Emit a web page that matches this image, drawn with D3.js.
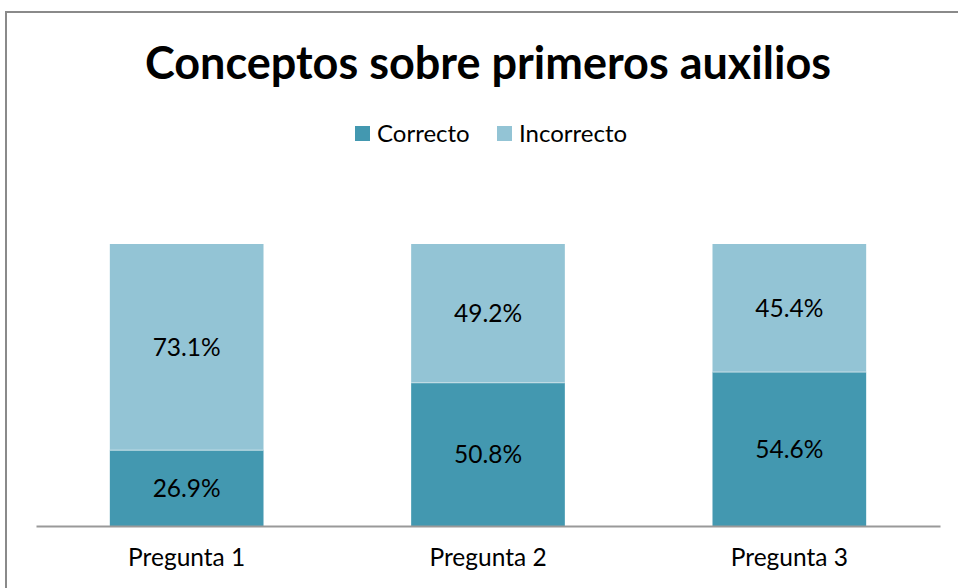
<!DOCTYPE html>
<meta charset="utf-8">
<head>
    <style>
        body {margin: 0; background: #fff;}
        text {font-family: Lato, "Open Sans", sans-serif; fill: #000;}
        .title {font-weight: bold; font-size: 45px;}
        .lbl {font-size: 24.5px;}
    </style>
    <script src="https://d3js.org/d3.v7.min.js"></script>
</head>
<body>
<script>
    // data
    var categories = ["Pregunta 1", "Pregunta 2", "Pregunta 3"];
    var series = ["Correcto", "Incorrecto"];
    var correcto = [26.9, 50.8, 54.6];
    var incorrecto = [73.1, 49.2, 45.4];
    var colors = ["#4398B0", "#93C4D5"];

    var width = 958, height = 588;

    var svg = d3.select("body").append("svg")
        .attr("width", width)
        .attr("height", height);

    // outer chart border
    svg.append("rect")
        .attr("x", 6).attr("y", 12)
        .attr("width", 960).attr("height", 600)
        .attr("fill", "none")
        .attr("stroke", "#8a8a8a")
        .attr("stroke-width", 2);

    svg.append("text")
        .attr("class", "title")
        .attr("x", 488).attr("y", 79)
        .attr("text-anchor", "middle")
        .text("Conceptos sobre primeros auxilios");

    var x = d3.scaleBand()
        .domain(categories)
        .range([36, 940])
        .paddingInner(0.49)
        .paddingOuter(0.245);

    var y = d3.scaleLinear()
        .domain([0, 100])
        .range([526, 244]);

    var rows = categories.map(function(c, i) {
        return {cat: c, Correcto: correcto[i], Incorrecto: incorrecto[i]};
    });
    var stacked = d3.stack().keys(series)(rows);

    var layers = svg.selectAll("g.layer")
        .data(stacked)
      .enter().append("g")
        .attr("class", "layer")
        .attr("fill", function(d, i) { return colors[i]; });

    layers.selectAll("rect")
        .data(function(d) { return d; })
      .enter().append("rect")
        .attr("x", function(d) { return x(d.data.cat); })
        .attr("width", x.bandwidth())
        .attr("y", function(d) { return y(d[1]); })
        .attr("height", function(d) { return y(d[0]) - y(d[1]); });

    // thin light seam between segments
    layers.filter(function(d, i) { return i == 1; }).selectAll("line")
        .data(function(d) { return d; })
      .enter().append("line")
        .attr("x1", function(d) { return x(d.data.cat); })
        .attr("x2", function(d) { return x(d.data.cat) + x.bandwidth(); })
        .attr("y1", function(d) { return y(d[0]); })
        .attr("y2", function(d) { return y(d[0]); })
        .attr("stroke", "#c9e0e8").attr("stroke-width", 1);

    layers.selectAll("text")
        .data(function(d) { return d; })
      .enter().append("text")
        .attr("class", "lbl")
        .attr("text-anchor", "middle")
        .attr("x", function(d) { return x(d.data.cat) + x.bandwidth() / 2; })
        .attr("y", function(d) { return (y(d[0]) + y(d[1])) / 2 + 9; })
        .text(function(d) { return (d[1] - d[0]).toFixed(1) + "%"; });

    // category axis
    var axis = svg.append("g")
        .attr("transform", "translate(0,526)")
        .call(d3.axisBottom(x).tickSize(0).tickPadding(23));
    axis.select(".domain").attr("stroke", "#999").attr("stroke-width", 2);
    axis.selectAll("text")
        .attr("class", "lbl")
        .style("font-family", "Lato, 'Open Sans', sans-serif")
        .style("font-size", "24.5px")
        .attr("fill", "#000");

    // legend
    var legX = [355, 497];
    var leg = svg.selectAll("g.leg")
        .data(series)
      .enter().append("g")
        .attr("class", "leg")
        .attr("transform", function(d, i) { return "translate(" + legX[i] + ",126)"; });
    leg.append("rect")
        .attr("width", 15).attr("height", 15)
        .attr("fill", function(d, i) { return colors[i]; });
    leg.append("text")
        .attr("class", "lbl")
        .style("font-size", "24px")
        .attr("x", 22).attr("y", 16)
        .text(function(d) { return d; });
</script>
</body>
